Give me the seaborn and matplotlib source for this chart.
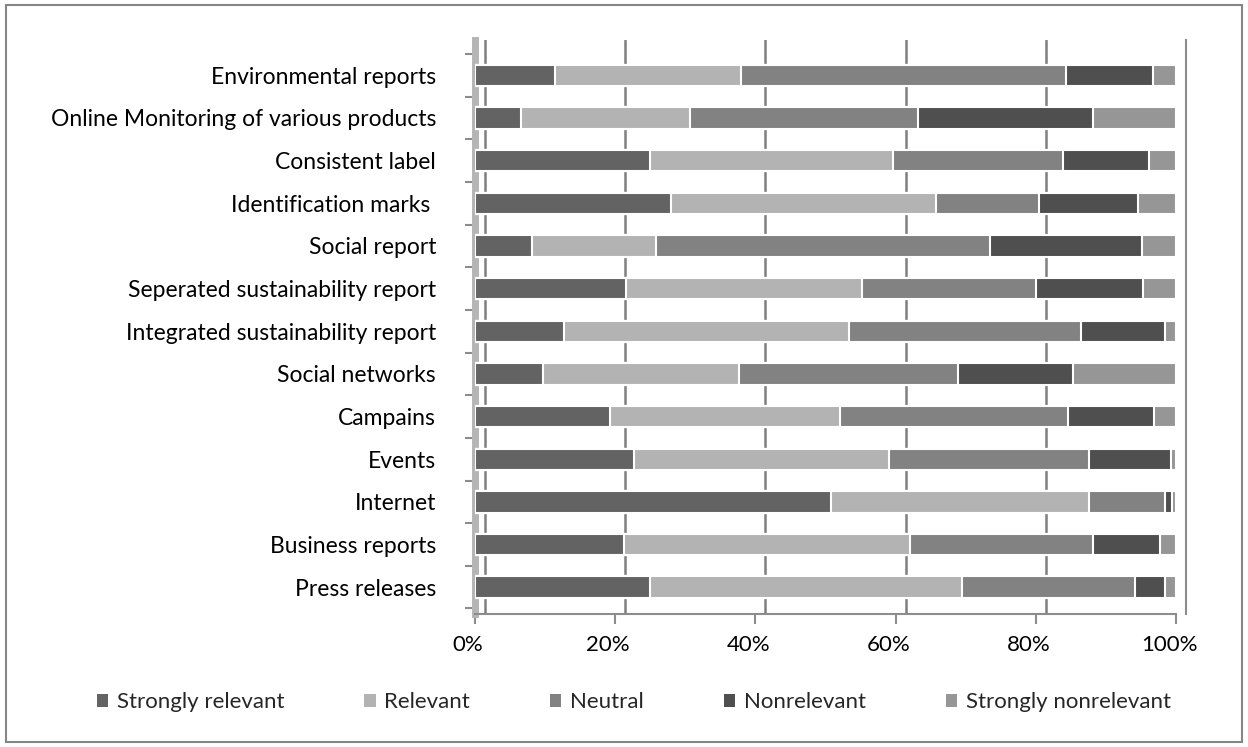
import numpy as np
import pandas as pd
import matplotlib
matplotlib.use("Agg")
import matplotlib.pyplot as plt
import matplotlib.transforms as mtransforms
from matplotlib.patches import Rectangle, Patch
import seaborn as sns

# categories, top to bottom
items = ["Environmental reports", "Online Monitoring of various products", "Consistent label",
         "Identification marks ", "Social report", "Seperated sustainability report",
         "Integrated sustainability report", "Social networks", "Campains", "Events",
         "Internet", "Business reports", "Press releases"]

# shares in percent
strongly_relevant = [11.4, 6.6, 24.9, 28.0, 8.2, 21.5, 12.7, 9.7, 19.3, 22.7, 50.8, 21.2, 25.0]
relevant = [26.6, 24.1, 34.8, 37.7, 17.6, 33.7, 40.6, 28.0, 32.7, 36.3, 36.8, 40.8, 44.5]
neutral = [46.3, 32.5, 24.2, 14.8, 47.6, 24.9, 33.1, 31.2, 32.6, 28.6, 10.9, 26.2, 24.6]
nonrelevant = [12.4, 24.9, 12.2, 14.1, 21.7, 15.2, 12.1, 16.4, 12.2, 11.7, 1.0, 9.5, 4.4]
strongly_nonrelevant = [3.3, 11.9, 3.9, 5.4, 4.9, 4.7, 1.5, 14.7, 3.2, 0.7, 0.5, 2.3, 1.5]

series = ["Strongly relevant", "Relevant", "Neutral", "Nonrelevant", "Strongly nonrelevant"]
colors = ["#636363", "#b3b3b3", "#828282", "#4f4f4f", "#969696"]

df = pd.DataFrame({"item": items,
                   "Strongly relevant": strongly_relevant,
                   "Relevant": relevant,
                   "Neutral": neutral,
                   "Nonrelevant": nonrelevant,
                   "Strongly nonrelevant": strongly_nonrelevant})
# normalise each row to 100%
df[series] = df[series].div(df[series].sum(axis=1), axis=0) * 100
cum = df[series].cumsum(axis=1)

sns.set_theme(style="white")
plt.rcParams['font.family'] = ['Lato', 'DejaVu Sans']

fig = plt.figure(figsize=(12.48, 7.47), dpi=100)
ax = fig.add_axes([0.3806, 0.178, 0.5617, 0.768])

# stacked bars: draw cumulative totals from the longest down
for name, col in reversed(list(zip(series, colors))):
    sns.barplot(x=cum[name], y=df["item"], color=col, orient="h", width=0.5,
                edgecolor="white", linewidth=1.5, saturation=1, ax=ax, zorder=3)

ax.set_xlim(0, 100)
ax.set_ylim(12.63, -0.82)
ax.set_xticks([0, 20, 40, 60, 80, 100])
ax.set_xticklabels(["0%", "20%", "40%", "60%", "80%", "100%"])
ax.set_yticks(np.arange(-0.5, 13, 1), minor=True)
ax.set_xlabel("")
ax.set_ylabel("")
ax.tick_params(axis="x", which="major", labelsize=16, colors="#000000", pad=8,
               bottom=True, length=7, width=1.5, color="#8c8c8c")
ax.tick_params(axis="y", which="major", labelsize=16.5, colors="#000000", pad=22, left=False)
ax.tick_params(axis="y", which="minor", left=True, length=7, width=1.5, color="#8c8c8c")
shift = mtransforms.ScaledTranslation(-7 / 100, 0, fig.dpi_scale_trans)
for lab in ax.get_xticklabels():
    lab.set_transform(lab.get_transform() + shift)

# back-wall gridlines sit a little to the right of the front face
ax.grid(axis="x", color="#7f7f7f", linewidth=1.8, zorder=0)
gshift = mtransforms.ScaledTranslation(10 / 100, 0, fig.dpi_scale_trans)
for gl in ax.xaxis.get_gridlines():
    gl.set_transform(gl.get_transform() + gshift)

ax.spines["top"].set_visible(False)
ax.spines["left"].set_color("#b5b5b5")
ax.spines["left"].set_linewidth(5)
ax.spines["bottom"].set_color("#8c8c8c")
ax.spines["bottom"].set_linewidth(1.5)
ax.spines["right"].set_color("#8c8c8c")
ax.spines["right"].set_linewidth(1.5)
ax.spines["right"].set_transform(ax.spines["right"].get_transform() + gshift)

handles = [Patch(facecolor=c, edgecolor="none") for c in colors]
fig.legend(handles, series, loc="center", bbox_to_anchor=(0.508, 0.06), ncol=5, frameon=False,
           fontsize=16, handlelength=0.5, handleheight=0.5, handletextpad=0.4, columnspacing=3.6)

fig.patches.append(Rectangle((0.0048, 0.0067), 0.990, 0.9866, transform=fig.transFigure,
                             fill=False, edgecolor="#868686", linewidth=1.5))

fig.savefig("out.png", dpi=100)
